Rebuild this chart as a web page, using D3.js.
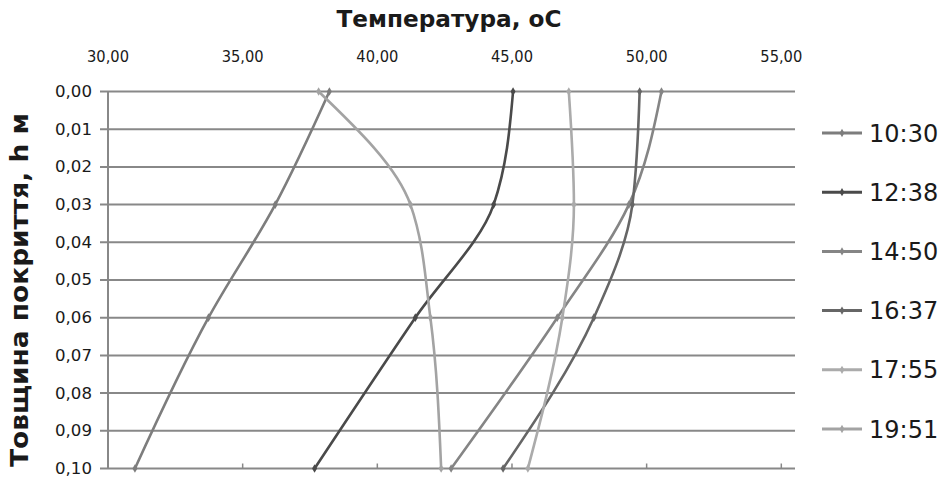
<!DOCTYPE html>
<html>
<head>
<meta charset="utf-8">
<script src="https://cdn.jsdelivr.net/npm/d3@7"></script>
<style>
  body { margin: 0; background: #ffffff; }
  svg { display: block; }
  text { font-family: "DejaVu Sans", sans-serif; fill: #1a1a1a; }
</style>
</head>
<body>
<svg id="chart" width="941" height="481"></svg>
<script>
// Depth of the pavement layer, m (measurement points)
const depths = [0, 0.03, 0.06, 0.10];

// Measurement times (legend labels)
const seriesNames = ["10:30", "12:38", "14:50", "16:37", "17:55", "19:51"];

// Temperature, °C, at each depth for each measurement time
const temps1030 = [38.22, 36.21, 33.73, 31.00];
const temps1238 = [45.04, 44.32, 41.41, 37.67];
const temps1450 = [50.55, 49.34, 46.68, 42.74];
const temps1637 = [49.74, 49.47, 48.04, 44.67];
const temps1755 = [47.11, 47.30, 46.87, 45.59];
const temps1951 = [37.82, 41.23, 41.97, 42.37];

// Axis tick values
const tempTicks = [30, 35, 40, 45, 50, 55];
const depthTicks = [0, 0.01, 0.02, 0.03, 0.04, 0.05, 0.06, 0.07, 0.08, 0.09, 0.10];

const seriesColors = ["#7d7d7d", "#4a4a4a", "#858585", "#666666", "#ababab", "#a3a3a3"];

const allTemps = [temps1030, temps1238, temps1450, temps1637, temps1755, temps1951];
const series = seriesNames.map((name, i) => ({
  name,
  color: seriesColors[i],
  points: depths.map((d, j) => ({ depth: d, temp: allTemps[i][j] }))
}));

const svg = d3.select("#chart");
const plot = { left: 108, top: 91.5, right: 795, bottom: 468.5 };

const x = d3.scaleLinear().domain([30, 55]).range([plot.left, 781.3]);
const y = d3.scaleLinear().domain([0, 0.10]).range([plot.top, plot.bottom]);

const comma = v => v.toFixed(2).replace(".", ",");
const gridColor = "#888888";

// Horizontal gridlines (with outward ticks on the left)
svg.append("g")
  .selectAll("line")
  .data(depthTicks)
  .join("line")
  .attr("x1", plot.left - 8)
  .attr("x2", plot.right)
  .attr("y1", d => y(d))
  .attr("y2", d => y(d))
  .attr("stroke", gridColor)
  .attr("stroke-width", 2);

// Left axis line
svg.append("line")
  .attr("x1", plot.left).attr("x2", plot.left)
  .attr("y1", plot.top).attr("y2", plot.bottom)
  .attr("stroke", gridColor)
  .attr("stroke-width", 2);

// Inner tick marks along the bottom edge
svg.append("g")
  .selectAll("line")
  .data(tempTicks)
  .join("line")
  .attr("x1", d => x(d)).attr("x2", d => x(d))
  .attr("y1", plot.bottom).attr("y2", plot.bottom - 5)
  .attr("stroke", gridColor)
  .attr("stroke-width", 1.5);

// Depth labels on the left
svg.append("g")
  .selectAll("text")
  .data(depthTicks)
  .join("text")
  .attr("x", 92)
  .attr("y", d => y(d))
  .attr("dy", "0.36em")
  .attr("text-anchor", "end")
  .attr("font-size", 15)
  .attr("textLength", 37)
  .attr("lengthAdjust", "spacingAndGlyphs")
  .text(d => comma(d));

// Temperature labels above the plot
svg.append("g")
  .selectAll("text")
  .data(tempTicks)
  .join("text")
  .attr("x", d => x(d))
  .attr("y", 57)
  .attr("dy", "0.36em")
  .attr("text-anchor", "middle")
  .attr("font-size", 15)
  .attr("textLength", 42)
  .attr("lengthAdjust", "spacingAndGlyphs")
  .text(d => comma(d));

// Axis titles
svg.append("text")
  .attr("x", 449)
  .attr("y", 27)
  .attr("text-anchor", "middle")
  .attr("font-size", 23)
  .attr("font-weight", "bold")
  .attr("textLength", 225)
  .attr("lengthAdjust", "spacingAndGlyphs")
  .text("Температура, оС");

svg.append("text")
  .attr("transform", "translate(28,290) rotate(-90)")
  .attr("text-anchor", "middle")
  .attr("font-size", 25)
  .attr("font-weight", "bold")
  .attr("textLength", 354)
  .attr("lengthAdjust", "spacingAndGlyphs")
  .text("Товщина покриття, h м");

// Temperature profiles
const line = d3.line()
  .x(d => x(d.temp))
  .y(d => y(d.depth))
  .curve(d3.curveMonotoneY);

const marker = d3.symbol().type(d3.symbolDiamond).size(22);

const seriesG = svg.append("g")
  .selectAll("g")
  .data(series)
  .join("g");

seriesG.append("path")
  .attr("d", d => line(d.points))
  .attr("fill", "none")
  .attr("stroke", d => d.color)
  .attr("stroke-width", 2.6);

seriesG.selectAll("path.m")
  .data(d => d.points.map(p => ({ ...p, color: d.color })))
  .join("path")
  .attr("class", "m")
  .attr("d", marker)
  .attr("transform", d => `translate(${x(d.temp)},${y(d.depth)})`)
  .attr("fill", d => d.color);

// Legend
const legendY = d3.scalePoint().domain(seriesNames).range([133, 429]);
const legend = svg.append("g")
  .selectAll("g")
  .data(series)
  .join("g")
  .attr("transform", d => `translate(0,${legendY(d.name)})`);

legend.append("line")
  .attr("x1", 822).attr("x2", 862)
  .attr("stroke", d => d.color)
  .attr("stroke-width", 3);

legend.append("path")
  .attr("d", d3.symbol().type(d3.symbolDiamond).size(20))
  .attr("transform", "translate(842,0)")
  .attr("fill", d => d.color);

legend.append("text")
  .attr("x", 869)
  .attr("dy", "0.36em")
  .attr("font-size", 24)
  .text(d => d.name);
</script>
</body>
</html>
